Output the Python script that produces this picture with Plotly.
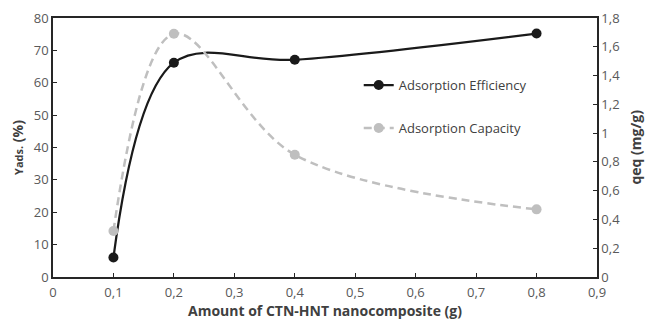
import plotly.graph_objects as go

# Sample mass of CTN-HNT nanocomposite (g)
amount_g = [0.1, 0.2, 0.4, 0.8]
# Adsorption efficiency (%)
efficiency_pct = [6.0, 66.2, 67.1, 75.2]
# Adsorption capacity qeq (mg/g)
capacity_mg_g = [0.32, 1.69, 0.85, 0.47]

x_ticks = [0, 0.1, 0.2, 0.3, 0.4, 0.5, 0.6, 0.7, 0.8, 0.9]
y_left_ticks = [0, 10, 20, 30, 40, 50, 60, 70, 80]
y_right_ticks = [0, 0.2, 0.4, 0.6, 0.8, 1.0, 1.2, 1.4, 1.6, 1.8]

FONT = "Open Sans"
TICK_COLOR = "#595959"
TEXT_COLOR = "#404040"
AXIS_COLOR = "#262626"

fig = go.Figure()

fig.add_trace(go.Scatter(
    x=amount_g, y=efficiency_pct, name="Adsorption Efficiency",
    mode="lines+markers", yaxis="y", showlegend=True,
    line=dict(color="#1a1a1a", width=2.25, shape="spline", smoothing=1),
    marker=dict(color="#1a1a1a", size=10),
    legend="legend",
))

fig.add_trace(go.Scatter(
    x=amount_g, y=capacity_mg_g, name="Adsorption Capacity",
    mode="lines+markers", yaxis="y2", showlegend=True,
    line=dict(color="#bfbfbf", width=2.5, shape="spline", smoothing=1, dash="8px,5px"),
    marker=dict(color="#bfbfbf", size=10),
    legend="legend2",
))

axis_common = dict(
    showline=True, linecolor=AXIS_COLOR, linewidth=1.5,
    ticks="inside", ticklen=4, tickwidth=1.2, tickcolor=AXIS_COLOR,
    showgrid=False, zeroline=False, automargin=False,
    tickfont=dict(family=FONT, size=13, color=TICK_COLOR),
)

legend_common = dict(
    xanchor="left", yanchor="middle",
    bgcolor="rgba(0,0,0,0)",
    font=dict(family=FONT, size=13, color=TEXT_COLOR),
)

title_font = dict(family=FONT, size=14, color=TEXT_COLOR)

fig.update_layout(
    width=646, height=320,
    margin=dict(l=53, r=49, t=18, b=43),
    paper_bgcolor="white", plot_bgcolor="white",
    separators=", ",
    showlegend=True,
    font=dict(family=FONT, color=TEXT_COLOR),
    xaxis=dict(
        range=[0, 0.9], tickvals=x_ticks, mirror=True, ticklabelstandoff=3,
        **axis_common,
    ),
    yaxis=dict(
        range=[0, 80], tickvals=y_left_ticks,
        title=dict(text="<b><span style='font-size:11px'>Yads.</span> (%)</b>",
                   font=title_font, standoff=7),
        **axis_common,
    ),
    yaxis2=dict(
        range=[0, 1.8], tickvals=y_right_ticks, overlaying="y", side="right",
        **axis_common,
    ),
    legend=dict(x=0.562, y=0.741, **legend_common),
    legend2=dict(x=0.562, y=0.575, **legend_common),
    annotations=[
        dict(
            text="<b>Amount of CTN-HNT nanocomposite (g)</b>",
            xref="paper", yref="paper", x=0.5, y=-0.131,
            xanchor="center", yanchor="middle", showarrow=False,
            borderpad=0, font=title_font,
        ),
        dict(
            text="<b>qeq (mg/g)</b>", textangle=-90,
            xref="paper", yref="paper", x=1.07, y=0.5,
            xanchor="center", yanchor="middle", showarrow=False,
            borderpad=0, font=title_font,
        ),
    ],
)

fig.write_html("out.html")
